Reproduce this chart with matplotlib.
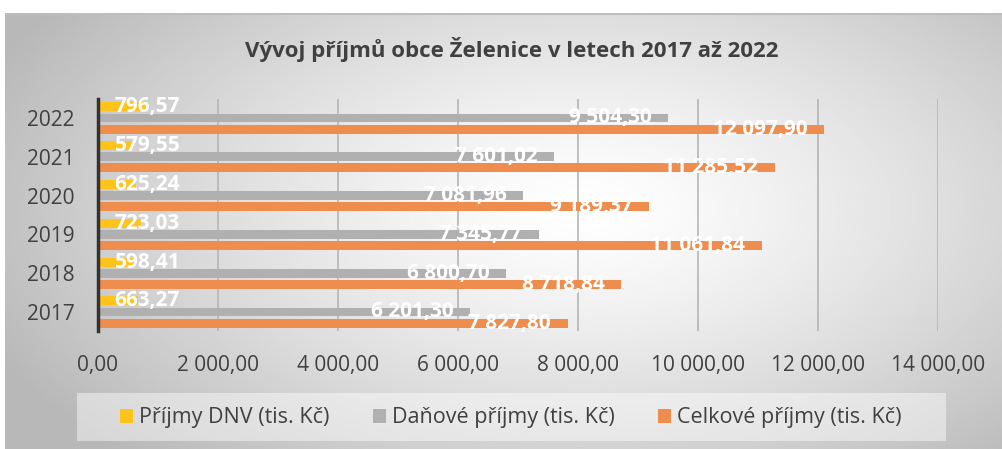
import numpy as np
import matplotlib
matplotlib.use("Agg")
import matplotlib.pyplot as plt
from matplotlib.patches import Rectangle

plt.rcParams['font.family'] = ['Open Sans', 'DejaVu Sans']

# data (tis. Kč)
years = ['2017', '2018', '2019', '2020', '2021', '2022']
dnv = [663.27, 598.41, 723.03, 625.24, 579.55, 796.57]
danove = [6201.30, 6800.70, 7345.77, 7081.96, 7601.02, 9504.30]
celkove = [7827.80, 8718.84, 11061.84, 9189.37, 11285.52, 12097.90]
series_names = ['Příjmy DNV (tis. Kč)', 'Daňové příjmy (tis. Kč)', 'Celkové příjmy (tis. Kč)']
colors = ['#FFC31A', '#B0B0B0', '#EF8D4E']
xticks = np.arange(0, 14001, 2000)

txt_color = '#404040'


def cz(v):
    # czech number format: 9 504,30
    s = f"{v:,.2f}"
    return s.replace(',', ' ').replace('.', ',')


W, H = 1002, 449
fig = plt.figure(figsize=(W / 100, H / 100), dpi=100)
fig.patch.set_facecolor('white')

# chart area background with radial gradient
bg = fig.add_axes([5 / W, 0, 997 / W, 436 / H])
bg.set_axis_off()
gx, gy = np.meshgrid(np.linspace(0, 1, 400), np.linspace(0, 1, 200))
r = np.sqrt(((gx - 0.58) / 0.62) ** 2 + ((gy - 0.45) / 0.75) ** 2)
shade = np.clip(1.0 - 0.26 * r ** 1.3, 0.72, 1.0)
bg.imshow(shade, cmap='gray', vmin=0, vmax=1, aspect='auto', extent=[0, 1, 0, 1])
bg.set_xlim(0, 1)
bg.set_ylim(0, 1)
bg.plot([0, 1], [0.997, 0.997], color='#BDBDBD', lw=1.5)

# legend box
fig.patches.append(Rectangle((77 / W, 1 - 441 / H), 869 / W, 48 / H,
                             transform=fig.transFigure, facecolor='white',
                             alpha=0.45, edgecolor='none', zorder=1))

ax = fig.add_axes([98 / W, 1 - 331.4 / H, 840 / W, 232.8 / H])
ax.patch.set_alpha(0)

y = np.arange(len(years))
step = 0.285
h = 0.23
vals = [dnv, danove, celkove]
bars = []
for i, (v, c, name) in enumerate(zip(vals, colors, series_names)):
    b = ax.barh(y + (1 - i) * step, v, height=h, color=c, label=name, zorder=3)
    bars.append(b)

for i, v in enumerate(vals):
    for j, val in enumerate(v):
        yy = y[j] + (1 - i) * step
        if i == 0:
            ax.annotate(cz(val), (0, yy), xytext=(12, 0), textcoords='offset points',
                        ha='left', va='center', color='white', fontsize=15,
                        fontweight='bold', zorder=5)
        else:
            ax.annotate(cz(val), (val, yy), xytext=(-12, 0), textcoords='offset points',
                        ha='right', va='center', color='white', fontsize=15,
                        fontweight='bold', zorder=5)

ax.set_xlim(0, 14000)
ax.set_ylim(-0.5, len(years) - 0.5)
ax.set_xticks(xticks)
ax.set_xticklabels([cz(t) for t in xticks])
ax.set_yticks(y)
ax.set_yticklabels(years)
ax.tick_params(axis='x', length=0, pad=17, labelsize=15, labelcolor=txt_color)
ax.tick_params(axis='y', length=0, pad=17, labelsize=15, labelcolor=txt_color)
ax.grid(axis='x', color='#B5B5B5', lw=1.2, zorder=0)
for s in ['top', 'right', 'bottom']:
    ax.spines[s].set_visible(False)
ax.spines['left'].set_color('#333333')
ax.spines['left'].set_linewidth(2.5)
ax.spines['left'].set_zorder(4)

fig.text(0.511, 1 - 50 / H, 'Vývoj příjmů obce Želenice v letech 2017 až 2022',
         ha='center', va='center', fontsize=16, fontweight='bold', color=txt_color)

fig.legend(handles=bars, labels=series_names, loc='center',
           bbox_to_anchor=(511 / W, 1 - 418 / H), ncol=3, frameon=False,
           fontsize=15.5, labelcolor=txt_color, handlelength=0.6, handleheight=0.6,
           handletextpad=0.3, columnspacing=2.0)

fig.savefig('out.png', dpi=100)
